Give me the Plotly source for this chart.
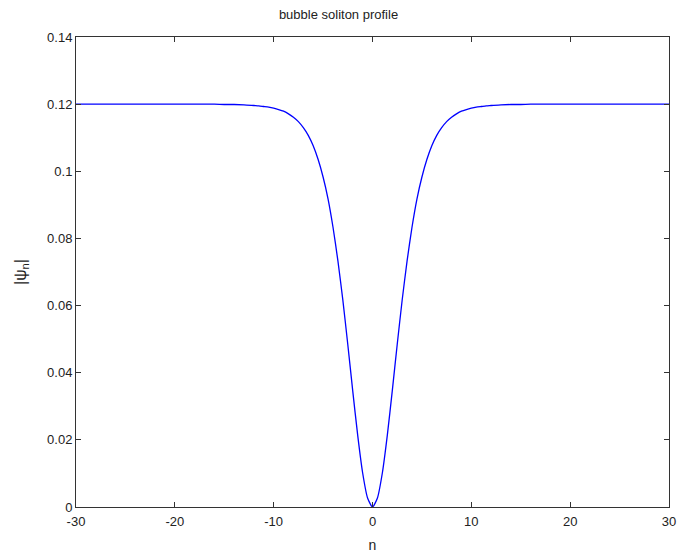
import plotly.graph_objects as go

# lattice site n and soliton amplitude |psi_n|
n_vals = [-30, -28, -26, -24, -22, -20, -18, -16, -15, -14, -13, -12, -11.5, -11, -10.5, -10,
          -9.5, -9, -8.5, -8, -7.5, -7, -6.5, -6, -5.5, -5, -4.5, -4, -3.5, -3, -2.5, -2, -1.5, -1, -0.5, 0,
          0.5, 1, 1.5, 2, 2.5, 3, 3.5, 4, 4.5, 5, 5.5, 6, 6.5, 7, 7.5, 8, 8.5, 9, 9.5,
          10, 10.5, 11, 11.5, 12, 13, 14, 15, 16, 18, 20, 22, 24, 26, 28, 30]
psi_vals = [0.1200, 0.1200, 0.1200, 0.1200, 0.1200, 0.1200, 0.1200, 0.1200, 0.1199, 0.1199, 0.1198, 0.1196, 0.1195, 0.1193, 0.1191, 0.1188,
            0.1184, 0.1179, 0.1171, 0.1161, 0.1148, 0.1130, 0.1107, 0.1076, 0.1035, 0.0983, 0.0918, 0.0834, 0.0733, 0.0616, 0.0484, 0.0346, 0.0214, 0.0102, 0.0027, 0.0,
            0.0027, 0.0102, 0.0214, 0.0346, 0.0484, 0.0616, 0.0733, 0.0834, 0.0918, 0.0983, 0.1035, 0.1076, 0.1107, 0.1130, 0.1148, 0.1161, 0.1171, 0.1179, 0.1184,
            0.1188, 0.1191, 0.1193, 0.1195, 0.1196, 0.1198, 0.1199, 0.1199, 0.1200, 0.1200, 0.1200, 0.1200, 0.1200, 0.1200, 0.1200, 0.1200]

x_ticks = [-30, -20, -10, 0, 10, 20, 30]
x_tick_text = ["-30", "-20", "-10", "0", "10", "20", "30"]
y_ticks = [0, 0.02, 0.04, 0.06, 0.08, 0.1, 0.12, 0.14]
y_tick_text = ["0", "0.02", "0.04", "0.06", "0.08", "0.1", "0.12", "0.14"]

fig = go.Figure()
fig.add_trace(go.Scatter(x=n_vals, y=psi_vals, mode="lines",
                         line=dict(color="#0000ff", width=1.3, shape="spline", smoothing=0.6),
                         showlegend=False, hoverinfo="skip"))

font = "Liberation Sans, Arial, sans-serif"
axis_common = dict(showline=True, linecolor="#333333", linewidth=1, mirror="ticks",
                   ticks="inside", ticklen=5, tickcolor="#333333", showgrid=False,
                   zeroline=False, ticklabeloverflow="allow", automargin=False,
                   tickfont=dict(family=font, size=13, color="#222222"))

fig.update_layout(
    width=677, height=553,
    paper_bgcolor="white", plot_bgcolor="white",
    margin=dict(l=76, r=8, t=37, b=46, autoexpand=False),
    title=dict(text="bubble soliton profile", x=0.5, xanchor="center", y=0.973, yanchor="middle",
               font=dict(family=font, size=13, color="#222222")),
    xaxis=dict(range=[-30, 30], tickvals=x_ticks, ticktext=x_tick_text, ticklabelstandoff=2,
               title=dict(text="n", standoff=12, font=dict(family=font, size=14, color="#222222")),
               **axis_common),
    yaxis=dict(range=[0, 0.14], tickvals=y_ticks, ticktext=y_tick_text,
               title=dict(text="|ψ<sub>n</sub>|", standoff=16,
                          font=dict(family=font, size=16, color="#222222")), **axis_common),
)

fig.write_html("out.html", config={"displayModeBar": False},
               post_script="document.body.style.margin='0';document.body.style.overflow='hidden';")
